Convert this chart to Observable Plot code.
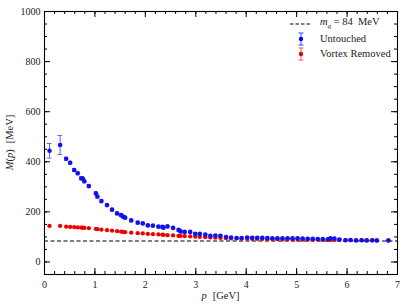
<!DOCTYPE html>
<html><head><meta charset="utf-8">
<script src="https://cdn.jsdelivr.net/npm/d3@7"></script>
<script src="https://cdn.jsdelivr.net/npm/@observablehq/plot@0.6"></script>
<style>
body{margin:0;background:#fff;}
#wrap{position:relative;width:407px;height:307px;font-family:"Liberation Serif","DejaVu Serif",serif;}
#legend{position:absolute;left:288px;top:16px;font-size:10.5px;color:#222;}
#legend div{height:15px;display:flex;align-items:center;}
#legend svg{width:26px;height:14px;margin-right:6px;}
</style></head><body>
<div id="wrap"><div id="chart"></div>
<div id="legend">
<div><svg><line x1="2" x2="24" y1="7" y2="7" stroke="#000" stroke-width="1.2" stroke-dasharray="3.5,2"/></svg><span><i>m</i><sub style="font-size:7px"><i>q</i></sub> = 84&nbsp;&nbsp;MeV</span></div>
<div><svg><line x1="13" x2="13" y1="1" y2="13" stroke="#3344ff"/><line x1="10.5" x2="15.5" y1="1" y2="1" stroke="#3344ff"/><line x1="10.5" x2="15.5" y1="13" y2="13" stroke="#3344ff"/><circle cx="13" cy="7" r="2.2" fill="#0000ee"/></svg><span>Untouched</span></div>
<div><svg><line x1="13" x2="13" y1="1" y2="13" stroke="#ff5555"/><line x1="10.5" x2="15.5" y1="1" y2="1" stroke="#ff5555"/><line x1="10.5" x2="15.5" y1="13" y2="13" stroke="#ff5555"/><circle cx="13" cy="7" r="2.2" fill="#ee0000"/></svg><span>Vortex Removed</span></div>
</div></div>
<script>
const pValues = [0.10,0.31,0.43,0.51,0.59,0.66,0.73,0.76,0.79,0.88,1.02,1.05,1.13,1.24,1.34,1.44,1.52,1.56,1.60,1.72,1.85,1.95,2.05,2.15,2.26,2.34,2.36,2.44,2.55,2.66,2.70,2.78,2.89,2.99,3.08,3.19,3.29,3.39,3.49,3.60,3.70,3.81,3.91,4.02,4.12,4.22,4.32,4.42,4.52,4.62,4.72,4.82,4.92,5.02,5.12,5.22,5.32,5.42,5.52,5.62,5.67,5.75,5.85,5.97,6.07,6.18,6.29,6.39,6.50,6.59,6.82];
const untouched = [444,467,412,396,367,354,334,333,322,303,274,261,243,227,209,194,187,181,177,166,157,154,146,145,141,140,137,142,136,128,122,120,120,112,112,109,105,106,105,100,98,96,96,98,97,97,97,96,95,95,95,95,95,95,94,93,93,92,92,91,95,94,90,87,88,86,87,86,87,86,86];
const untouchedErr = [29,38,6,6,6,6,6,6,6,6,6,6,6,5,5,5,5,5,5,5,5,4,4,4,4,4,4,4,4,5,4,4,4,4,4,4,3,3,3,3,3,3,3,3,3,3,3,3,3,3,3,3,3,3,3,3,3,3,3,3,3,3,3,3,3,3,3,3,3,3,3];
const vortexRemoved = [144,144,141,140,139,138,137,137,136,135,132,131,129,127,125,123,121,120,119,117,115,114,112,111,110,109,108,107,106,104,104,103,102,101,100,99,98,97,96,95,94,94,93,93,92,92,92,91,91,91,90,90,90,89,89,89,89,89,88,88,88,88,88,87,87,87,87,87,86,86,86];
const vortexErr = 2;
const mq = 84;
const xMajor = [0,1,2,3,4,5,6,7];
const yMajor = [0,200,400,600,800,1000];

const blue = pValues.map((p,i)=>({p, m: untouched[i], e: untouchedErr[i]}));
const red = pValues.map((p,i)=>({p, m: vortexRemoved[i], e: vortexErr}));
const xMinor = d3.range(0, 7.001, 0.2).map(d=>+d.toFixed(1));
const yMinor = d3.range(-50, 1001, 50);

const W=407,H=307,mt=11,mb=33,ml=44,mr=10;
const ph = H-mt-mb, pw = W-ml-mr;
const font = '"Liberation Serif", "DejaVu Serif", serif';

function bars(data, color, dotColor, r){
  const big = data.filter(d=>d.e>8), small = data.filter(d=>d.e<=8);
  return [
    Plot.ruleX(data, {x:"p", y1:d=>d.m-d.e, y2:d=>d.m+d.e, stroke:color, strokeWidth:1}),
    Plot.ruleY(big, {x1:d=>d.p-0.045, x2:d=>d.p+0.045, y:d=>d.m+d.e, stroke:color}),
    Plot.ruleY(big, {x1:d=>d.p-0.045, x2:d=>d.p+0.045, y:d=>d.m-d.e, stroke:color}),
    Plot.ruleY(small, {x1:d=>d.p-0.035, x2:d=>d.p+0.035, y:d=>d.m+d.e, stroke:color}),
    Plot.ruleY(small, {x1:d=>d.p-0.035, x2:d=>d.p+0.035, y:d=>d.m-d.e, stroke:color}),
    Plot.dot(data, {x:"p", y:"m", r, fill:dotColor, stroke:"none"})
  ];
}

const chart = Plot.plot({
  width:W, height:H, marginTop:mt, marginBottom:mb, marginLeft:ml, marginRight:mr,
  style:{fontFamily:font, fontSize:"10px", color:"#222", background:"#fff"},
  x:{domain:[0,7]},
  y:{domain:[-50,1000]},
  marks:[
    Plot.ruleY([mq], {stroke:"#000", strokeWidth:1.1, strokeDasharray:"4,2.5"}),
    ...bars(red, "#ff6666", "#ee0000", 2.1),
    ...bars(blue, "#5566ff", "#1111ee", 2.3),
    Plot.tickX(xMajor, {x:d=>d, insetTop:ph-6, stroke:"#000"}),
    Plot.tickX(xMajor, {x:d=>d, insetBottom:ph-6, stroke:"#000"}),
    Plot.tickX(xMinor, {x:d=>d, insetTop:ph-3, stroke:"#000"}),
    Plot.tickX(xMinor, {x:d=>d, insetBottom:ph-3, stroke:"#000"}),
    Plot.tickY(yMajor, {y:d=>d, insetRight:pw-6, stroke:"#000"}),
    Plot.tickY(yMajor, {y:d=>d, insetLeft:pw-6, stroke:"#000"}),
    Plot.tickY(yMinor, {y:d=>d, insetRight:pw-3, stroke:"#000"}),
    Plot.tickY(yMinor, {y:d=>d, insetLeft:pw-3, stroke:"#000"}),
    Plot.axisX({ticks:xMajor, tickSize:0, tickPadding:6, tickFormat:d=>String(d), label:null, fontSize:10}),
    Plot.axisY({ticks:yMajor, tickSize:0, tickPadding:4, tickFormat:d=>String(d), label:null, fontSize:10}),
    Plot.frame({stroke:"#000", strokeWidth:1.1})
  ]
});
chart.setAttribute("font-family", font);
const svg = d3.select(chart);
svg.append("text").attr("x", ml+pw/2).attr("y", 299).attr("text-anchor","middle")
  .attr("font-size",10.5).attr("fill","#222")
  .html('<tspan font-style="italic">p</tspan><tspan dx="6">[GeV]</tspan>');
svg.append("text").attr("transform","translate(13,"+(mt+ph/2)+") rotate(-90)").attr("text-anchor","middle")
  .attr("font-size",10.5).attr("fill","#222")
  .html('<tspan font-style="italic">M</tspan>(<tspan font-style="italic">p</tspan>)<tspan dx="6">[MeV]</tspan>');
document.getElementById("chart").appendChild(chart);
</script></body></html>
